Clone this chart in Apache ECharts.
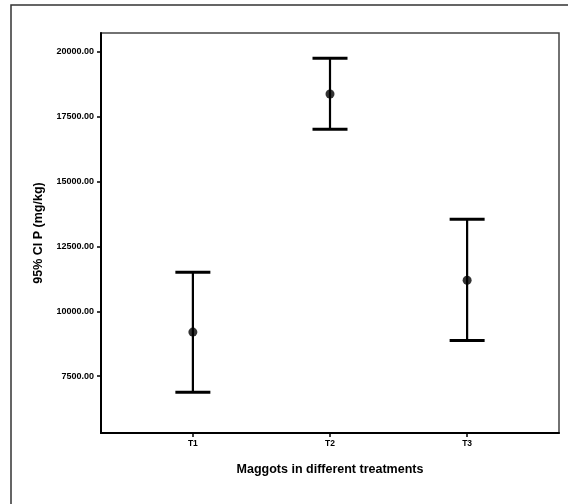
<!DOCTYPE html>
<html>
<head>
<meta charset="utf-8">
<script src="https://cdn.jsdelivr.net/npm/echarts@6/dist/echarts.min.js"></script>
<style>
  html, body { margin: 0; padding: 0; background: #fff; }
  #chart { width: 568px; height: 504px; }
</style>
</head>
<body>
<div id="chart"></div>
<script>
// Treatment groups and their 95% confidence intervals for P (mg/kg)
const categories = ['T1', 'T2', 'T3'];
const means = [9200, 18380, 11200];
const lowerCI = [6880, 17020, 8880];
const upperCI = [11510, 19760, 13550];
const yTicks = [7500, 10000, 12500, 15000, 17500, 20000];

const positions = categories.map((_, i) => i + 1);
const barData = positions.map((x, i) => [x, lowerCI[i], upperCI[i]]);
const pointData = positions.map((x, i) => [x, means[i]]);

const font = 'Liberation Sans, Arial, sans-serif';
const chart = echarts.init(document.getElementById('chart'), null, { renderer: 'canvas' });

chart.setOption({
  animation: false,
  backgroundColor: '#fff',
  graphic: [{
    type: 'rect',
    shape: { x: 11, y: 5, width: 620, height: 620 },
    style: { fill: 'none', stroke: '#333', lineWidth: 1.5 },
    silent: true
  }],
  grid: {
    left: 101, top: 33, right: 9, bottom: 71,
    show: true, borderColor: '#444', borderWidth: 1.5, backgroundColor: '#fff'
  },
  xAxis: {
    type: 'value',
    min: 0.33, max: 3.67,
    name: 'Maggots in different treatments',
    nameLocation: 'middle',
    nameGap: 30,
    nameTextStyle: { fontFamily: font, fontWeight: 'bold', fontSize: 12.5, color: '#000' },
    axisLine: { lineStyle: { color: '#000', width: 2 } },
    axisTick: { customValues: positions, length: 4, lineStyle: { color: '#000', width: 1.5 } },
    axisLabel: {
      customValues: positions,
      formatter: v => categories[Math.round(v) - 1] || '',
      fontFamily: font, fontWeight: 'bold', fontSize: 8.5, color: '#000', margin: 6
    },
    splitLine: { show: false }
  },
  yAxis: {
    type: 'value',
    min: 5310, max: 20730,
    name: '95% CI P (mg/kg)',
    nameLocation: 'middle',
    nameGap: 56,
    nameTextStyle: { fontFamily: font, fontWeight: 'bold', fontSize: 12.5, color: '#000' },
    axisLine: { lineStyle: { color: '#000', width: 2 } },
    axisTick: { customValues: yTicks, length: 4, lineStyle: { color: '#000', width: 1.5 } },
    axisLabel: {
      customValues: yTicks,
      formatter: v => v.toFixed(2),
      fontFamily: font, fontWeight: 'bold', fontSize: 9, color: '#000', margin: 7
    },
    splitLine: { show: false }
  },
  series: [
    {
      type: 'custom',
      data: barData,
      renderItem: (params, api) => {
        const x = api.value(0);
        const lo = api.coord([x, api.value(1)]);
        const hi = api.coord([x, api.value(2)]);
        const half = 17.5;
        const style = { stroke: '#000', lineWidth: 2.2 };
        return {
          type: 'group',
          children: [
            { type: 'line', shape: { x1: lo[0], y1: lo[1], x2: hi[0], y2: hi[1] }, style },
            { type: 'line', shape: { x1: hi[0] - half, y1: hi[1], x2: hi[0] + half, y2: hi[1] }, style: { stroke: '#000', lineWidth: 3 } },
            { type: 'line', shape: { x1: lo[0] - half, y1: lo[1], x2: lo[0] + half, y2: lo[1] }, style: { stroke: '#000', lineWidth: 3 } }
          ]
        };
      },
      silent: true,
      z: 2
    },
    {
      type: 'scatter',
      data: pointData,
      symbol: 'circle',
      symbolSize: 9,
      itemStyle: { color: '#000' },
      silent: true,
      z: 3
    }
  ]
});
</script>
</body>
</html>
